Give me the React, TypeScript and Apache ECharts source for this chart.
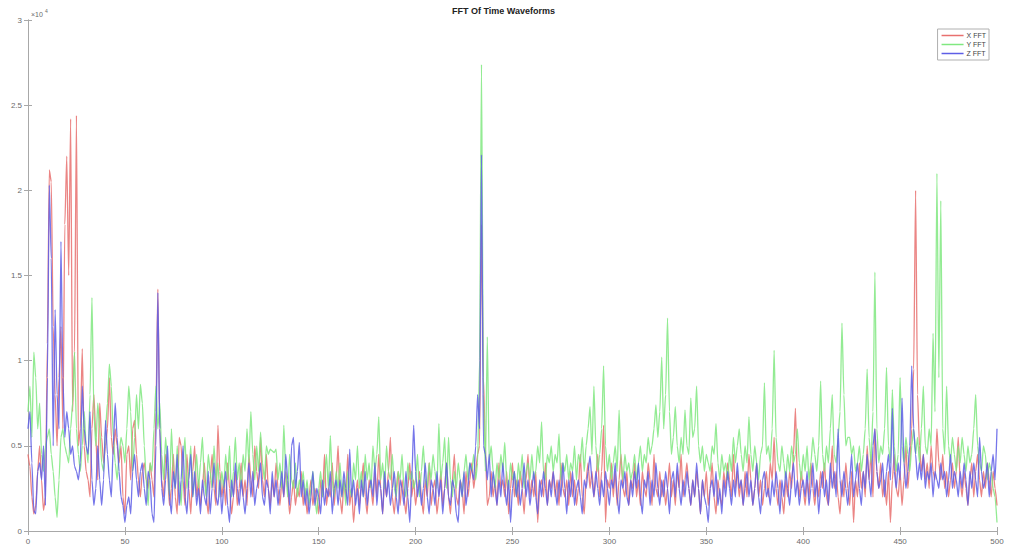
import React, { useEffect, useRef } from "react";
import * as echarts from "echarts";

// Frequency bins 0..500, values in units of 1e4
const xFFT: number[] = [
  0.45, 0.38, 0.2, 0.1, 0.15, 0.35, 0.5, 0.3, 0.12, 0.2,
  1.1, 2.12, 2.05, 1.2, 0.8, 0.5, 0.9, 1.2, 0.6, 1.8,
  2.2, 1.5, 2.42, 0.7, 1.05, 2.44, 0.5, 0.6, 1.07, 0.5,
  0.35, 0.3, 0.2, 0.6, 0.8, 0.55, 0.3, 0.75, 0.55, 0.4,
  0.5, 0.6, 0.9, 0.55, 0.45, 0.6, 0.5, 0.4, 0.5, 0.2,
  0.1, 0.45, 0.5, 0.3, 0.6, 0.65, 0.45, 0.3, 0.2, 0.35,
  0.4, 0.3, 0.25, 0.4, 0.3, 0.2, 0.7, 1.42, 0.6, 0.3,
  0.2, 0.45, 0.35, 0.15, 0.25, 0.45, 0.2, 0.1, 0.55, 0.5,
  0.3, 0.15, 0.45, 0.25, 0.1, 0.35, 0.5, 0.2, 0.3, 0.15,
  0.25, 0.4, 0.2, 0.1, 0.3, 0.45, 0.25, 0.15, 0.62, 0.35,
  0.2, 0.3, 0.15, 0.4, 0.25, 0.1, 0.2, 0.35, 0.15, 0.25,
  0.4, 0.2, 0.3, 0.15, 0.45, 0.3, 0.2, 0.5, 0.35, 0.25,
  0.55, 0.3, 0.2, 0.45, 0.25, 0.15, 0.3, 0.2, 0.4, 0.25,
  0.15, 0.3, 0.2, 0.35, 0.25, 0.1, 0.2, 0.3, 0.15, 0.25,
  0.2, 0.35, 0.15, 0.25, 0.1, 0.2, 0.3, 0.15, 0.25, 0.2,
  0.1, 0.3, 0.2, 0.45, 0.15, 0.25, 0.2, 0.4, 0.15, 0.3,
  0.5, 0.2, 0.1, 0.3, 0.2, 0.45, 0.15, 0.25, 0.05, 0.2,
  0.3, 0.15, 0.25, 0.4, 0.2, 0.1, 0.3, 0.25, 0.15, 0.35,
  0.2, 0.45, 0.25, 0.1, 0.3, 0.2, 0.35, 0.55, 0.2, 0.1,
  0.25, 0.35, 0.15, 0.3, 0.2, 0.1, 0.25, 0.4, 0.2, 0.3,
  0.15, 0.25, 0.35, 0.2, 0.1, 0.3, 0.2, 0.4, 0.15, 0.25,
  0.3, 0.1, 0.2, 0.35, 0.15, 0.25, 0.4, 0.2, 0.1, 0.3,
  0.45, 0.2, 0.15, 0.3, 0.25, 0.1, 0.35, 0.2, 0.3, 0.4,
  0.25, 0.35, 0.45, 0.5, 1.8, 0.9, 0.5, 0.15, 0.2, 0.35,
  0.2, 0.3, 0.15, 0.4, 0.25, 0.3, 0.2, 0.35, 0.1, 0.25,
  0.4, 0.2, 0.3, 0.15, 0.35, 0.25, 0.1, 0.3, 0.45, 0.2,
  0.3, 0.2, 0.35, 0.05, 0.25, 0.3, 0.2, 0.4, 0.15, 0.3,
  0.25, 0.35, 0.2, 0.3, 0.15, 0.4, 0.25, 0.2, 0.3, 0.15,
  0.35, 0.2, 0.3, 0.15, 0.25, 0.45, 0.2, 0.1, 0.3, 0.4,
  0.25, 0.35, 0.2, 0.3, 0.45, 0.2, 0.35, 0.62, 0.05, 0.3,
  0.25, 0.4, 0.2, 0.35, 0.15, 0.3, 0.45, 0.25, 0.2, 0.35,
  0.15, 0.3, 0.25, 0.4, 0.2, 0.3, 0.15, 0.35, 0.25, 0.2,
  0.4, 0.3, 0.15, 0.45, 0.25, 0.2, 0.35, 0.2, 0.3, 0.15,
  0.25, 0.4, 0.2, 0.3, 0.15, 0.35, 0.25, 0.45, 0.2, 0.3,
  0.4, 0.25, 0.15, 0.3, 0.2, 0.35, 0.25, 0.1, 0.3, 0.2,
  0.35, 0.15, 0.25, 0.4, 0.2, 0.1, 0.3, 0.2, 0.15, 0.35,
  0.25, 0.4, 0.3, 0.2, 0.45, 0.25, 0.35, 0.2, 0.3, 0.15,
  0.35, 0.2, 0.45, 0.3, 0.15, 0.25, 0.4, 0.2, 0.3, 0.15,
  0.25, 0.35, 0.2, 0.4, 0.3, 0.55, 0.25, 0.15, 0.3, 0.2,
  0.1, 0.3, 0.2, 0.35, 0.25, 0.45, 0.72, 0.3, 0.2, 0.35,
  0.25, 0.15, 0.3, 0.2, 0.4, 0.25, 0.15, 0.3, 0.2, 0.35,
  0.25, 0.4, 0.2, 0.15, 0.3, 0.5, 0.25, 0.35, 0.2, 0.1,
  0.3, 0.2, 0.4, 0.25, 0.15, 0.35, 0.05, 0.3, 0.2, 0.4,
  0.25, 0.35, 0.2, 0.5, 0.3, 0.45, 0.2, 0.6, 0.35, 0.25,
  0.4, 0.2, 0.3, 0.15, 0.35, 0.05, 0.3, 0.45, 0.25, 0.2,
  0.35, 0.15, 0.3, 0.5, 0.25, 0.4, 0.6, 0.95, 2.0, 0.8,
  0.5, 0.35, 0.45, 0.3, 0.4, 0.25, 0.5, 0.35, 0.3, 0.6,
  0.4, 0.3, 0.45, 0.25, 0.35, 0.2, 0.3, 0.4, 0.25, 0.35,
  0.55, 0.3, 0.2, 0.35, 0.25, 0.15, 0.3, 0.4, 0.2, 0.35,
  0.45, 0.3, 0.2, 0.35, 0.25, 0.4, 0.3, 0.2, 0.35, 0.25,
  0.15,
];

const yFFT: number[] = [
  0.7, 0.85, 0.55, 1.05, 0.9, 0.6, 0.75, 0.45, 0.35, 0.5,
  0.55, 0.6, 0.45, 0.35, 0.2, 0.08, 0.3, 0.55, 0.6, 0.5,
  0.45, 0.4, 0.6, 0.75, 1.05, 0.6, 0.45, 0.35, 0.5, 0.7,
  0.5, 0.4, 0.8, 1.37, 0.7, 0.5, 0.75, 0.6, 0.4, 0.35,
  0.6, 0.75, 0.98, 0.85, 0.55, 0.4, 0.3, 0.45, 0.55, 0.5,
  0.4, 0.6, 0.85, 0.7, 0.35, 0.55, 0.8, 0.6, 0.86, 0.75,
  0.5, 0.3, 0.15, 0.4, 0.35, 0.6, 0.85, 0.6, 0.75, 0.45,
  0.3, 0.55, 0.4, 0.2, 0.6, 0.35, 0.25, 0.5, 0.3, 0.15,
  0.4, 0.55, 0.25, 0.35, 0.5, 0.2, 0.3, 0.45, 0.25, 0.4,
  0.55, 0.3, 0.2, 0.45, 0.35, 0.25, 0.5, 0.3, 0.4, 0.2,
  0.35, 0.25, 0.45, 0.3, 0.5, 0.2, 0.35, 0.55, 0.3, 0.4,
  0.25, 0.45, 0.35, 0.6, 0.4, 0.7, 0.45, 0.3, 0.5, 0.35,
  0.58, 0.4, 0.3, 0.5, 0.45, 0.48, 0.47, 0.46, 0.48, 0.3,
  0.4, 0.25, 0.62, 0.35, 0.2, 0.45, 0.3, 0.25, 0.4, 0.2,
  0.3, 0.25, 0.35, 0.2, 0.3, 0.15, 0.25, 0.35, 0.2, 0.1,
  0.25, 0.35, 0.2, 0.3, 0.45, 0.25, 0.56, 0.3, 0.2, 0.35,
  0.25, 0.4, 0.2, 0.3, 0.15, 0.35, 0.25, 0.2, 0.4, 0.3,
  0.5, 0.25, 0.35, 0.2, 0.45, 0.3, 0.4, 0.25, 0.5, 0.35,
  0.45, 0.67, 0.3, 0.4, 0.25, 0.5, 0.35, 0.3, 0.45, 0.25,
  0.2, 0.35, 0.3, 0.45, 0.25, 0.2, 0.4, 0.3, 0.35, 0.25,
  0.3, 0.45, 0.2, 0.35, 0.5, 0.3, 0.25, 0.4, 0.3, 0.45,
  0.35, 0.25, 0.63, 0.3, 0.4, 0.55, 0.25, 0.55, 0.3, 0.2,
  0.35, 0.25, 0.4, 0.3, 0.2, 0.35, 0.45, 0.3, 0.4, 0.35,
  0.45, 0.3, 0.4, 1.0, 2.74, 0.8, 0.35, 1.14, 0.4, 0.5,
  0.35, 0.25, 0.4, 0.3, 0.45, 0.35, 0.52, 0.3, 0.25, 0.4,
  0.3, 0.35, 0.2, 0.4, 0.3, 0.45, 0.25, 0.35, 0.4, 0.3,
  0.45, 0.3, 0.35, 0.5, 0.4, 0.64, 0.35, 0.3, 0.45, 0.4,
  0.5, 0.35, 0.45, 0.4, 0.57, 0.3, 0.4, 0.35, 0.45, 0.3,
  0.4, 0.35, 0.5, 0.3, 0.45, 0.4, 0.55, 0.35, 0.5, 0.6,
  0.73, 0.45, 0.85, 0.5, 0.35, 0.45, 0.6, 0.97, 0.5, 0.35,
  0.45, 0.3, 0.4, 0.5, 0.35, 0.71, 0.4, 0.3, 0.45, 0.35,
  0.4, 0.3, 0.35, 0.45, 0.3, 0.4, 0.5, 0.35, 0.45, 0.4,
  0.55, 0.45, 0.5, 0.6, 0.74, 0.55, 0.7, 1.02, 0.6, 0.8,
  1.25, 0.7, 0.45, 0.55, 0.73, 0.5, 0.4, 0.55, 0.45, 0.71,
  0.5, 0.45, 0.78, 0.55, 0.6, 0.85, 0.5, 0.4, 0.5, 0.35,
  0.45, 0.4, 0.35, 0.5, 0.45, 0.63, 0.4, 0.3, 0.45, 0.35,
  0.4, 0.3, 0.45, 0.35, 0.55, 0.4, 0.5, 0.6, 0.45, 0.35,
  0.5, 0.4, 0.67, 0.45, 0.35, 0.5, 0.4, 0.3, 0.45, 0.5,
  0.87, 0.45, 0.5, 0.4, 0.6, 1.06, 0.55, 0.4, 0.35, 0.5,
  0.4, 0.3, 0.45, 0.35, 0.5, 0.4, 0.45, 0.6, 0.4, 0.3,
  0.45, 0.35, 0.5, 0.3, 0.4, 0.55, 0.45, 0.35, 0.5, 0.88,
  0.45, 0.35, 0.5, 0.4, 0.6, 0.8, 0.45, 0.4, 0.55, 0.7,
  1.22, 0.8, 0.5, 0.55, 0.55, 0.45, 0.5, 0.35, 0.4, 0.5,
  0.35, 0.45, 0.6, 0.95, 0.55, 0.4, 0.7, 1.52, 0.6, 0.4,
  0.5, 0.45, 0.6, 0.96, 0.5, 0.4, 0.83, 0.5, 0.35, 0.45,
  0.9, 0.5, 0.4, 0.55, 0.45, 0.35, 0.5, 0.6, 0.45, 0.55,
  0.4, 0.6, 0.85, 0.5, 0.45, 0.6, 0.5, 1.16, 0.7, 2.1,
  0.9, 1.94, 0.6, 0.45, 0.85, 0.5, 0.4, 0.55, 0.45, 0.35,
  0.5, 0.4, 0.55, 0.45, 0.35, 0.5, 0.4, 0.45, 0.6, 0.8,
  0.5, 0.4, 0.35, 0.5, 0.45, 0.3, 0.4, 0.35, 0.25, 0.2,
  0.05,
];

const zFFT: number[] = [
  0.6, 0.7, 0.4, 0.12, 0.1, 0.35, 0.4, 0.3, 0.5, 0.15,
  0.9, 2.03, 1.6, 0.5, 1.3, 0.8, 0.6, 1.7, 0.9, 0.55,
  0.7, 0.6, 0.45, 0.5, 0.38, 0.35, 0.3, 0.4, 0.85, 0.6,
  0.5, 0.45, 0.7, 0.3, 0.15, 0.25, 0.5, 0.3, 0.15, 0.3,
  0.65, 0.45, 0.3, 0.2, 0.5, 0.75, 0.55, 0.35, 0.2, 0.15,
  0.05, 0.15, 0.2, 0.1, 0.35, 0.45, 0.3, 0.2, 0.35, 0.4,
  0.25, 0.15, 0.35, 0.3, 0.1, 0.05, 0.5, 1.4, 0.6, 0.25,
  0.15, 0.3, 0.5, 0.2, 0.1, 0.35, 0.25, 0.45, 0.15, 0.3,
  0.5, 0.2, 0.1, 0.3, 0.45, 0.2, 0.35, 0.15, 0.25, 0.1,
  0.3, 0.2, 0.15, 0.35, 0.1, 0.25, 0.4, 0.2, 0.15, 0.3,
  0.1, 0.25, 0.35, 0.15, 0.05, 0.3, 0.2, 0.4, 0.25, 0.15,
  0.3, 0.2, 0.1, 0.25, 0.4, 0.2, 0.35, 0.15, 0.25, 0.3,
  0.4, 0.2, 0.15, 0.3, 0.25, 0.1, 0.35, 0.2, 0.3, 0.15,
  0.25, 0.35, 0.2, 0.45, 0.3, 0.15, 0.5, 0.55, 0.25, 0.35,
  0.52, 0.2, 0.3, 0.15, 0.25, 0.1, 0.2, 0.35, 0.15, 0.25,
  0.2, 0.1, 0.3, 0.15, 0.25, 0.2, 0.35, 0.1, 0.25, 0.3,
  0.15, 0.3, 0.2, 0.35, 0.25, 0.15, 0.48, 0.2, 0.3, 0.15,
  0.25, 0.1, 0.3, 0.2, 0.35, 0.15, 0.25, 0.3, 0.2, 0.4,
  0.15, 0.3, 0.25, 0.1, 0.35, 0.2, 0.3, 0.15, 0.25, 0.35,
  0.2, 0.1, 0.3, 0.25, 0.15, 0.35, 0.2, 0.05, 0.3, 0.62,
  0.35, 0.2, 0.3, 0.15, 0.25, 0.4, 0.2, 0.1, 0.3, 0.25,
  0.15, 0.35, 0.2, 0.3, 0.1, 0.25, 0.4, 0.2, 0.15, 0.3,
  0.25, 0.1, 0.05, 0.3, 0.2, 0.35, 0.15, 0.25, 0.4, 0.35,
  0.3, 0.5, 0.8, 0.6, 2.21, 0.5, 0.45, 0.3, 0.45, 0.2,
  0.35, 0.25, 0.15, 0.3, 0.2, 0.4, 0.25, 0.15, 0.3, 0.05,
  0.25, 0.35, 0.2, 0.3, 0.15, 0.25, 0.4, 0.2, 0.3, 0.15,
  0.25, 0.35, 0.2, 0.1, 0.3, 0.2, 0.35, 0.25, 0.15, 0.3,
  0.2, 0.35, 0.25, 0.15, 0.3, 0.2, 0.4, 0.25, 0.1, 0.3,
  0.2, 0.35, 0.15, 0.25, 0.3, 0.2, 0.1, 0.3, 0.25, 0.35,
  0.44, 0.3, 0.2, 0.35, 0.25, 0.15, 0.3, 0.2, 0.35, 0.25,
  0.15, 0.3, 0.25, 0.4, 0.2, 0.1, 0.3, 0.25, 0.35, 0.2,
  0.15, 0.3, 0.2, 0.35, 0.25, 0.4, 0.2, 0.1, 0.3, 0.25,
  0.35, 0.15, 0.3, 0.2, 0.4, 0.25, 0.15, 0.3, 0.2, 0.35,
  0.25, 0.1, 0.3, 0.35, 0.2, 0.4, 0.25, 0.15, 0.3, 0.2,
  0.35, 0.25, 0.15, 0.3, 0.2, 0.4, 0.25, 0.1, 0.3, 0.2,
  0.15, 0.05, 0.25, 0.3, 0.2, 0.35, 0.15, 0.25, 0.1, 0.3,
  0.2, 0.35, 0.25, 0.15, 0.3, 0.2, 0.4, 0.25, 0.3, 0.15,
  0.25, 0.35, 0.2, 0.3, 0.15, 0.25, 0.4, 0.2, 0.1, 0.3,
  0.35, 0.2, 0.25, 0.15, 0.3, 0.2, 0.35, 0.25, 0.1, 0.3,
  0.2, 0.35, 0.25, 0.15, 0.3, 0.4, 0.2, 0.3, 0.15, 0.25,
  0.3, 0.2, 0.35, 0.15, 0.25, 0.4, 0.2, 0.3, 0.1, 0.25,
  0.35, 0.2, 0.3, 0.15, 0.4, 0.25, 0.35, 0.2, 0.6, 0.3,
  0.2, 0.35, 0.25, 0.15, 0.3, 0.45, 0.2, 0.3, 0.4, 0.25,
  0.15, 0.35, 0.25, 0.45, 0.3, 0.2, 0.5, 0.6, 0.35, 0.25,
  0.3, 0.4, 0.2, 0.35, 0.45, 0.3, 0.72, 0.35, 0.25, 0.4,
  0.3, 0.78, 0.4, 0.25, 0.35, 0.5, 0.97, 0.6, 0.45, 0.3,
  0.4, 0.3, 0.45, 0.25, 0.35, 0.3, 0.4, 0.2, 0.35, 0.3,
  0.25, 0.4, 0.3, 0.35, 0.2, 0.3, 0.45, 0.25, 0.35, 0.3,
  0.2, 0.35, 0.25, 0.4, 0.3, 0.15, 0.35, 0.25, 0.4, 0.3,
  0.2, 0.55, 0.35, 0.25, 0.3, 0.4, 0.2, 0.35, 0.45, 0.3,
  0.6,
];

const seriesNames = ["X FFT", "Y FFT", "Z FFT"];
const seriesColors = ["#e8706f", "#80e880", "#5e5ee6"];
const xTicks = [0, 50, 100, 150, 200, 250, 300, 350, 400, 450, 500];
const yTicks = [0, 0.5, 1, 1.5, 2, 2.5, 3];

const AXIS = "#a8a8a8";
const LABEL = "#6a6a6a";
const FONT = "'Liberation Sans', Arial, sans-serif";

export default function App() {
  const ref = useRef<HTMLDivElement>(null);
  useEffect(() => {
    document.body.style.margin = "0";
    if (!ref.current) return;
    const chart = echarts.init(ref.current, undefined, { renderer: "svg" });
    const all = [xFFT, yFFT, zFFT];
    const axisCommon = {
      type: "value" as const,
      axisLine: { show: true, lineStyle: { color: AXIS, width: 1 } },
      axisTick: { show: true, inside: true, length: 4, lineStyle: { color: AXIS } },
      splitLine: { show: false },
    };
    chart.setOption({
      animation: false,
      backgroundColor: "#ffffff",
      textStyle: { fontFamily: FONT },
      grid: { left: 28, right: 15, top: 20, bottom: 27, containLabel: false },
      legend: {
        data: seriesNames,
        orient: "vertical",
        right: 23,
        top: 29,
        icon: "rect",
        itemWidth: 22,
        itemHeight: 1.5,
        itemGap: 2,
        padding: [3, 3, 3, 4],
        borderColor: "#b0b0b0",
        borderWidth: 1,
        backgroundColor: "#ffffff",
        textStyle: { fontSize: 7, color: "#444", fontFamily: FONT, padding: [0, 0, 0, -2] },
      },
      xAxis: [
        {
          ...axisCommon,
          position: "bottom",
          min: xTicks[0],
          max: xTicks[xTicks.length - 1],
          interval: 50,
          axisLabel: { fontSize: 8, color: LABEL, margin: 6, fontFamily: FONT },
        },
        {
          ...axisCommon,
          position: "top",
          min: xTicks[0],
          max: xTicks[xTicks.length - 1],
          interval: 50,
          axisLabel: { show: false },
        },
      ],
      yAxis: [
        {
          ...axisCommon,
          position: "left",
          min: yTicks[0],
          max: yTicks[yTicks.length - 1],
          interval: 0.5,
          axisLabel: { fontSize: 8, color: LABEL, margin: 6, fontFamily: FONT },
        },
        {
          ...axisCommon,
          position: "right",
          min: yTicks[0],
          max: yTicks[yTicks.length - 1],
          interval: 0.5,
          axisLabel: { show: false },
        },
      ],
      graphic: [
        {
          type: "text",
          left: 512 - 60,
          top: 6,
          style: {
            text: "FFT Of Time Waveforms",
            fontSize: 9,
            fontWeight: "bold",
            fill: "#222",
            fontFamily: FONT,
            width: 120,
            align: "center",
          },
        },
        {
          type: "text",
          left: 31,
          top: 11,
          style: { text: "×10", fontSize: 7, fill: LABEL, fontFamily: FONT },
        },
        {
          type: "text",
          left: 45,
          top: 8,
          style: { text: "4", fontSize: 5, fill: LABEL, fontFamily: FONT },
        },
      ],
      series: all.map((vals, si) => ({
        name: seriesNames[si],
        type: "line",
        xAxisIndex: 0,
        yAxisIndex: 0,
        showSymbol: false,
        symbol: "none",
        smooth: 0.2,
        smoothMonotone: "x",
        data: vals.map((v, i) => [i, v]),
        lineStyle: { color: seriesColors[si], width: 1.3, opacity: 0.85 },
        itemStyle: { color: seriesColors[si] },
        z: 2 + si,
      })),
    });
    return () => chart.dispose();
  }, []);
  return (
    <div
      ref={ref}
      style={{ position: "absolute", left: 0, top: 0, width: 1012, height: 558 }}
    />
  );
}
